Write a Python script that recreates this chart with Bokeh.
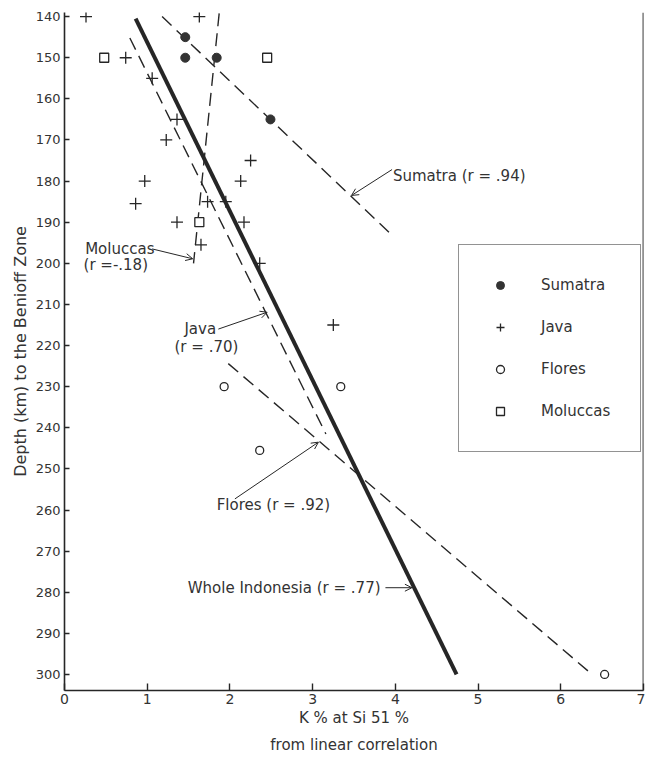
from bokeh.plotting import figure
from bokeh.models import (Range1d, FixedTicker, Span, Label, Arrow, OpenHead,
                          Legend, LegendItem, Title)
from bokeh.embed import file_html
from bokeh.resources import INLINE

FONT = "DejaVu Sans"
INK = "#262626"
TXT = "#333333"

# ---- data (K % at Si 51 %, depth to Benioff zone in km) ----
sumatra_k = [1.46, 1.46, 1.84, 2.49]
sumatra_depth = [145, 150, 150, 165]

java_k = [0.26, 1.63, 0.74, 1.06, 1.36, 1.23, 2.25, 0.97, 2.13, 0.86, 1.73,
          1.95, 1.36, 2.17, 1.65, 2.36, 3.25]
java_depth = [140, 140, 150, 155, 165, 170, 175, 180, 180, 185.5, 185,
              185, 190, 190, 195.5, 200, 215]

flores_k = [1.93, 3.34, 2.36, 6.53]
flores_depth = [230, 230, 245.5, 300]

moluccas_k = [0.48, 2.45, 1.63]
moluccas_depth = [150, 150, 190]

# regression lines (end points)
whole_fit_k = [0.86, 4.74]
whole_fit_depth = [140.5, 300]
sumatra_fit_k = [1.18, 3.93]
sumatra_fit_depth = [140, 192.6]
java_fit_k = [0.79, 3.16]
java_fit_depth = [145.2, 241.5]
flores_fit_k = [1.98, 6.35]
flores_fit_depth = [224.4, 299.5]
moluccas_fit_k = [1.87, 1.56]
moluccas_fit_depth = [139.2, 200]

x_ticks = [0, 1, 2, 3, 4, 5, 6, 7]
y_ticks = [140, 150, 160, 170, 180, 190, 200, 210, 220, 230, 240, 250, 260,
           270, 280, 290, 300]

legend_labels = ["Sumatra", "Java", "Flores", "Moluccas"]

p = figure(width=645, height=758, x_range=Range1d(0, 7),
           y_range=Range1d(303.9, 139),
           output_backend="svg", toolbar_location=None,
           min_border_left=64, min_border_top=12, min_border_right=2,
           min_border_bottom=68)
p.outline_line_color = None
p.xgrid.visible = False
p.ygrid.visible = False
p.background_fill_color = "white"

for ax in (p.xaxis[0], p.yaxis[0]):
    ax.axis_line_color = INK
    ax.axis_line_width = 1.6
    ax.major_tick_line_color = INK
    ax.major_tick_line_width = 1.4
    ax.minor_tick_line_color = None
    ax.major_label_text_font = FONT
    ax.major_label_text_color = TXT
    ax.axis_label_text_font = FONT
    ax.axis_label_text_font_style = "normal"
    ax.axis_label_text_color = TXT

p.xaxis.ticker = FixedTicker(ticks=x_ticks)
p.xaxis.major_tick_in = 7
p.xaxis.major_tick_out = 0
p.xaxis.major_label_standoff = 3
p.xaxis.major_label_text_font_size = "14px"
p.xaxis.axis_label = "K % at Si 51 %"
p.xaxis.axis_label_text_font_size = "15px"
p.xaxis.axis_label_standoff = 2

p.yaxis.ticker = FixedTicker(ticks=y_ticks)
p.yaxis.major_tick_in = 5
p.yaxis.major_tick_out = 0
p.yaxis.major_label_standoff = 4
p.yaxis.major_label_text_font_size = "13px"
p.yaxis.axis_label = "Depth (km) to the Benioff Zone"
p.yaxis.axis_label_text_font_size = "16px"
p.yaxis.axis_label_standoff = 3

p.add_layout(Title(text="from linear correlation", align="center",
                   text_font=FONT, text_font_size="15px",
                   text_font_style="normal", text_color=TXT, standoff=8),
             "below")

# right frame line
p.add_layout(Span(location=7, dimension="height", line_color=INK, line_width=1.8))

# regression lines
p.line(whole_fit_k, whole_fit_depth, line_color=INK, line_width=4)
for fk, fd in ((sumatra_fit_k, sumatra_fit_depth), (java_fit_k, java_fit_depth),
               (flores_fit_k, flores_fit_depth), (moluccas_fit_k, moluccas_fit_depth)):
    p.line(fk, fd, line_color=INK, line_width=1.4, line_dash="13 7")

# points
r_sum = p.scatter(sumatra_k, sumatra_depth, marker="circle", size=9,
                  fill_color="#333333", line_color="#333333")
r_java = p.scatter(java_k, java_depth, marker="cross", size=12,
                   line_color=INK, line_width=1.3)
r_flo = p.scatter(flores_k, flores_depth, marker="circle", size=8,
                  fill_color="white", line_color=INK, line_width=1.3)
r_mol = p.scatter(moluccas_k, moluccas_depth, marker="square", size=9,
                  fill_color="white", line_color=INK, line_width=1.3)

# annotations
notes = [
    ("Sumatra (r = .94)", 3.97, 178.8),
    ("Moluccas", 0.25, 196.5),
    ("(r =-.18)", 0.23, 200.3),
    ("Java", 1.45, 216.0),
    ("(r = .70)", 1.33, 220.4),
    ("Flores (r = .92)", 1.84, 258.9),
    ("Whole Indonesia (r = .77)", 1.49, 278.9),
]
for t, x, y in notes:
    p.add_layout(Label(x=x, y=y, text=t, text_font=FONT, text_font_size="15px",
                       text_color=TXT, text_baseline="middle", text_align="left"))

arrows = [
    (3.96, 177.2, 3.47, 183.5),
    (1.06, 196.5, 1.55, 198.9),
    (1.86, 216.0, 2.45, 211.9),
    (2.06, 257.3, 3.07, 243.5),
    (3.88, 278.9, 4.20, 278.9),
]
for xs, ys, xe, ye in arrows:
    p.add_layout(Arrow(x_start=xs, y_start=ys, x_end=xe, y_end=ye,
                       line_color=INK, line_width=1,
                       end=OpenHead(size=7, line_color=INK, line_width=1)))

legend = Legend(items=[LegendItem(label=l, renderers=[r]) for l, r in
                       zip(legend_labels, [r_sum, r_java, r_flo, r_mol])],
                location=(394, 238))
legend.border_line_color = INK
legend.border_line_width = 1.5
legend.background_fill_color = "white"
legend.background_fill_alpha = 1
legend.padding = 30
legend.margin = 0
legend.spacing = 22
legend.glyph_width = 22
legend.glyph_height = 20
legend.label_height = 20
legend.label_standoff = 30
legend.label_text_font = FONT
legend.label_text_font_size = "15px"
legend.label_text_color = TXT
p.add_layout(legend)

open("out.html", "w").write(file_html(p, INLINE))
